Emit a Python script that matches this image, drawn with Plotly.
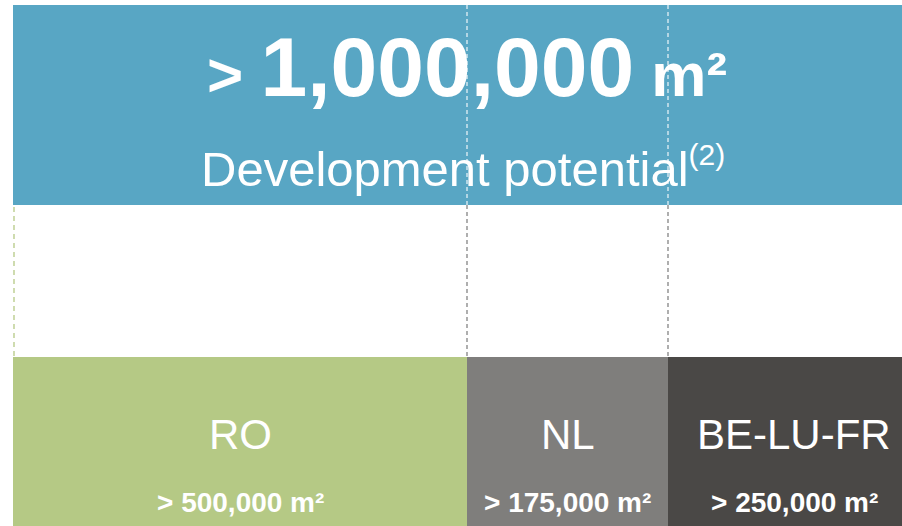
import plotly.graph_objects as go

# data
regions = ["RO", "NL", "BE-LU-FR"]
potential_m2 = [500000, 175000, 250000]
total_m2 = 1000000
headline = "Development potential"
footnote = "(2)"

# colours
banner_color = "#58A6C4"
region_colors = ["#B5C985", "#7F7E7C", "#4A4846"]

# layout (page pixels, the original graphic runs past the right edge)
W, H = 902, 526
left = 13
panel_widths = [454, 201, 252]
banner_top, banner_bottom = 5, 205
boxes_top, boxes_bottom = 357, 540
font = "Liberation Sans, Arial, sans-serif"

edges = [left]
for w in panel_widths:
    edges.append(edges[-1] + w)
centers = [(a + b) / 2 for a, b in zip(edges[:-1], edges[1:])]
right = edges[-1]

fig = go.Figure()

# banner
fig.add_trace(go.Bar(x=[(left + right) / 2], y=[banner_bottom - banner_top], base=[banner_top],
                     width=[right - left], marker=dict(color=banner_color, line_width=0),
                     hoverinfo="skip"))
# region boxes
fig.add_trace(go.Bar(x=centers, y=[boxes_bottom - boxes_top] * len(regions), base=[boxes_top] * len(regions),
                     width=panel_widths, marker=dict(color=region_colors, line_width=0),
                     hoverinfo="skip"))

# dashed guides
for xe in edges[1:-1]:
    fig.add_trace(go.Scatter(x=[xe, xe], y=[banner_top, banner_bottom], mode="lines",
                             line=dict(color="rgba(255,255,255,0.9)", width=1.2, dash="4px,3px"),
                             hoverinfo="skip"))
    fig.add_trace(go.Scatter(x=[xe, xe], y=[banner_bottom, boxes_top], mode="lines",
                             line=dict(color="#7a7a7a", width=1.2, dash="4px,3px"),
                             hoverinfo="skip"))
fig.add_trace(go.Scatter(x=[left + 1, left + 1], y=[banner_bottom + 2, boxes_top], mode="lines",
                         line=dict(color=region_colors[0], width=1.3, dash="5px,4px"),
                         hoverinfo="skip"))

ann = []
ann.append(dict(x=(left + right) / 2, y=67, xref="x", yref="y",
                text=f"<b><span style='font-size:62px'>&gt; </span>{total_m2:,}"
                     f"<span style='font-size:62px'> m²</span></b>",
                showarrow=False, font=dict(family=font, size=84, color="white"),
                xanchor="center", yanchor="middle"))
ann.append(dict(x=(left + right) / 2 - 4, y=167, xref="x", yref="y",
                text=f"{headline}<sup><span style='font-size:30px'>{footnote}</span></sup>",
                showarrow=False, font=dict(family=font, size=49, color="white"),
                xanchor="center", yanchor="middle"))
for c, r, v in zip(centers, regions, potential_m2):
    ann.append(dict(x=c, y=434, xref="x", yref="y", text=r, showarrow=False,
                    font=dict(family=font, size=42, color="white"),
                    xanchor="center", yanchor="middle"))
    ann.append(dict(x=c, y=502, xref="x", yref="y", text=f"<b>&gt; {v:,} m²</b>", showarrow=False,
                    font=dict(family=font, size=28, color="white"),
                    xanchor="center", yanchor="middle"))

fig.update_layout(
    width=W, height=H,
    margin=dict(l=0, r=0, t=0, b=0),
    paper_bgcolor="white", plot_bgcolor="white",
    showlegend=False, barmode="overlay",
    xaxis=dict(range=[0, W], visible=False, fixedrange=True),
    yaxis=dict(range=[H, 0], visible=False, fixedrange=True),
    annotations=ann,
)

# drop the browser's default page margin so the figure fills the window
fig.write_html("out.html", config={"displayModeBar": False},
               post_script="document.body.style.margin='0';document.body.style.overflow='hidden';")
